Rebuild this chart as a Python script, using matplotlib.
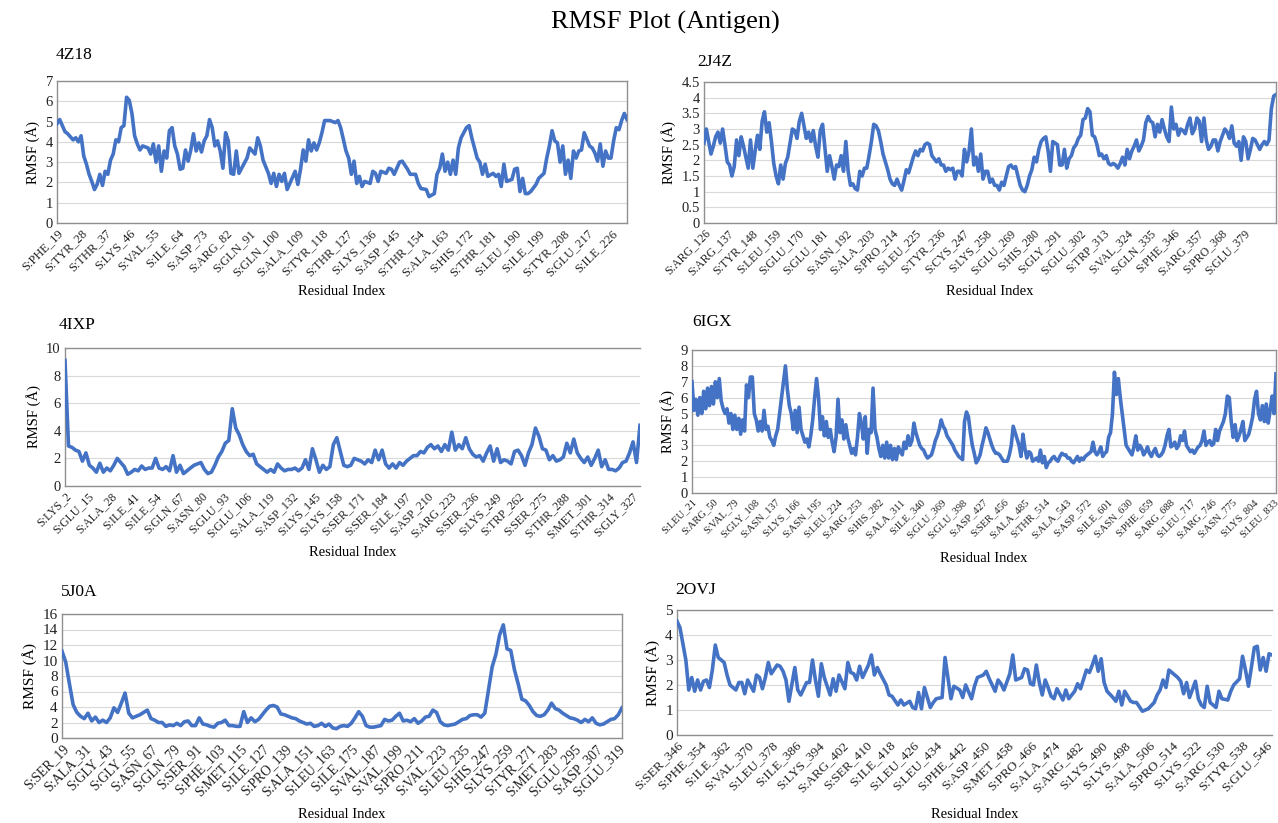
import numpy as np
import matplotlib
matplotlib.use("Agg")
from matplotlib import pyplot as plt

plt.rcParams['font.family'] = ['Liberation Serif', 'DejaVu Serif']

W, H = 1278, 823
LINE = '#4472C4'

# ---- 4Z18 ----
res_4z18 = [19, 20, 22, 23, 25, 26, 27, 28, 29, 30, 31, 32, 33, 34, 35, 36, 37, 38, 39, 40,
            41, 42, 43, 44, 45, 46, 47, 48, 49, 50, 51, 53, 54, 55, 56, 57, 58, 59, 60, 61,
            62, 63, 64, 65, 66, 67, 68, 69, 70, 71, 72, 73, 74, 75, 76, 77, 78, 79, 80, 81,
            82, 83, 84, 85, 86, 87, 88, 90, 91, 93, 94, 95, 96, 98, 99, 100, 101, 102, 103, 104,
            105, 106, 108, 109, 110, 111, 112, 113, 114, 115, 116, 117, 118, 119, 121, 123, 124, 125, 127, 128,
            129, 130, 131, 132, 133, 134, 136, 137, 138, 139, 140, 142, 143, 144, 145, 147, 148, 150, 151, 153,
            154, 155, 157, 158, 160, 161, 162, 163, 164, 165, 166, 167, 168, 169, 170, 172, 173, 174, 176, 177,
            178, 179, 180, 182, 183, 184, 185, 186, 187, 189, 190, 191, 192, 193, 194, 195, 196, 198, 199, 201,
            202, 203, 204, 205, 206, 207, 208, 209, 210, 211, 212, 213, 214, 215, 216, 218, 219, 220, 221, 222,
            223, 224, 225, 226, 227, 228, 229, 230, 231, 232]
rmsf_4z18 = [4.9, 5.1, 4.5, 4.4, 4.1, 4.2, 4.0, 4.3, 3.3, 2.9, 2.4, 2.05, 1.65, 1.9, 2.4, 1.85, 2.55, 2.4, 3.1, 3.4,
             4.1, 4.0, 4.7, 4.8, 6.2, 6.05, 5.4, 4.3, 3.9, 3.6, 3.8, 3.7, 3.4, 3.9, 3.0, 3.8, 2.55, 3.55, 3.2, 4.55,
             4.7, 3.8, 3.4, 2.65, 2.7, 3.6, 3.05, 3.6, 4.4, 3.55, 3.95, 3.5, 4.05, 4.3, 5.1, 4.7, 3.8, 4.05, 3.55, 2.7,
             4.45, 4.05, 2.45, 2.4, 3.55, 2.45, 2.7, 3.2, 3.7, 3.4, 4.2, 3.8, 3.1, 2.45, 1.95, 2.45, 1.8, 2.4, 2.05, 2.45,
             1.65, 1.95, 2.55, 1.9, 2.65, 3.6, 3.05, 4.1, 3.55, 3.95, 3.6, 3.95, 4.45, 5.05, 5.05, 4.95, 5.05, 4.7, 3.55, 3.2,
             2.4, 3.05, 1.95, 2.3, 1.8, 2.05, 1.95, 2.55, 2.45, 2.05, 2.55, 2.45, 2.7, 2.65, 2.4, 3.0, 3.05, 2.65, 2.4, 2.4,
             1.95, 1.7, 1.65, 1.3, 1.45, 2.4, 2.7, 3.4, 2.55, 3.0, 2.4, 3.1, 2.4, 3.7, 4.2, 4.7, 4.8, 4.2, 3.2, 3.0,
             2.4, 2.9, 2.3, 2.45, 2.3, 2.4, 1.8, 2.9, 2.05, 2.15, 2.65, 2.7, 1.55, 2.2, 1.45, 1.45, 1.55, 1.9, 2.2, 2.45,
             3.2, 3.8, 4.55, 4.05, 3.95, 3.0, 3.8, 2.4, 3.1, 2.2, 3.55, 3.2, 3.55, 3.6, 4.45, 3.8, 3.7, 3.45, 3.05, 3.9,
             2.8, 3.55, 3.2, 3.2, 4.05, 4.7, 4.6, 5.05, 5.4, 5.1]
ticks_4z18 = ["S:PHE_19", "S:TYR_28", "S:THR_37", "S:LYS_46", "S:VAL_55", "S:ILE_64", "S:ASP_73", "S:ARG_82",
              "S:GLN_91", "S:GLN_100", "S:ALA_109", "S:TYR_118", "S:THR_127", "S:LYS_136", "S:ASP_145", "S:THR_154",
              "S:ALA_163", "S:HIS_172", "S:THR_181", "S:LEU_190", "S:ILE_199", "S:TYR_208", "S:GLU_217", "S:ILE_226"]

# ---- 2J4Z (evenly sampled from residue 126 to 394) ----
span_2j4z = (126, 394)
rmsf_2j4z = [2.55, 3.0, 2.6, 2.2, 2.45, 2.75, 2.9, 2.55, 3.0, 2.5, 1.95, 1.85, 1.5, 1.8, 2.65, 2.15, 2.75, 2.45, 2.1, 1.75,
             2.65, 1.75, 2.3, 2.8, 2.35, 3.25, 3.55, 2.9, 3.2, 2.6, 1.9, 1.5, 1.25, 1.85, 1.4, 1.9, 2.1, 2.55, 3.0, 2.95,
             2.7, 3.25, 3.5, 3.1, 2.7, 2.9, 2.6, 2.95, 2.45, 2.1, 2.95, 3.15, 2.4, 1.65, 2.15, 1.8, 1.4, 1.85, 1.8, 2.15,
             1.65, 2.6, 1.65, 1.2, 1.25, 1.1, 1.05, 1.65, 1.5, 1.75, 1.75, 2.15, 2.6, 3.15, 3.1, 2.95, 2.6, 2.2, 1.95, 1.7,
             1.4, 1.25, 1.2, 1.4, 1.2, 1.05, 1.35, 1.7, 1.6, 1.85, 2.1, 2.3, 2.15, 2.35, 2.3, 2.5, 2.55, 2.5, 2.15, 2.05,
             1.95, 2.05, 1.85, 1.85, 1.65, 1.75, 1.7, 1.75, 1.4, 1.65, 1.65, 1.5, 2.35, 1.95, 2.3, 3.0, 1.85, 2.1, 1.65, 2.2,
             1.4, 1.65, 1.65, 1.3, 1.4, 1.2, 1.2, 1.05, 1.3, 1.2, 1.5, 1.8, 1.85, 1.75, 1.8, 1.5, 1.2, 1.05, 1.0, 1.2,
             1.5, 1.7, 2.1, 1.95, 2.35, 2.6, 2.7, 2.75, 2.3, 1.65, 2.6, 2.55, 2.5, 1.85, 1.85, 2.35, 1.75, 2.05, 2.15, 2.4,
             2.5, 2.7, 2.8, 3.3, 3.35, 3.65, 3.55, 2.8, 2.75, 2.5, 2.15, 2.2, 2.05, 2.15, 1.9, 1.85, 1.9, 1.85, 1.75, 1.9,
             2.1, 1.85, 2.35, 2.05, 2.3, 2.45, 2.65, 2.3, 2.45, 2.65, 3.2, 3.4, 3.25, 3.2, 2.75, 3.15, 2.9, 3.3, 3.0, 2.75,
             2.6, 3.7, 3.0, 3.15, 2.8, 3.0, 2.95, 2.85, 3.15, 3.35, 2.85, 3.0, 3.35, 3.25, 2.6, 3.35, 2.65, 2.35, 2.45, 2.65,
             2.65, 2.3, 2.6, 2.8, 3.0, 2.9, 2.7, 3.1, 2.55, 2.45, 2.6, 2.0, 2.75, 2.6, 2.05, 2.35, 2.7, 2.65, 2.5, 2.35,
             2.5, 2.6, 2.5, 2.65, 3.65, 4.05, 4.1]
ticks_2j4z = ["S:ARG_126", "S:ARG_137", "S:TYR_148", "S:LEU_159", "S:GLU_170", "S:GLU_181", "S:ASN_192", "S:ALA_203",
              "S:PRO_214", "S:LEU_225", "S:TYR_236", "S:CYS_247", "S:LYS_258", "S:GLU_269", "S:HIS_280", "S:GLY_291",
              "S:GLU_302", "S:TRP_313", "S:VAL_324", "S:GLN_335", "S:PHE_346", "S:ARG_357", "S:PRO_368", "S:GLU_379"]

# ---- 4IXP (every 2nd residue, 2..332) ----
span_4ixp = (2, 332)
rmsf_4ixp = [9.1, 2.9, 2.8, 2.6, 2.5, 1.8, 2.4, 1.5, 1.3, 1.0, 1.65, 1.0, 1.3, 1.1, 1.5, 2.0, 1.7, 1.4, 0.85, 1.0,
             1.2, 1.1, 1.45, 1.2, 1.3, 1.3, 2.0, 1.3, 1.2, 1.4, 1.1, 2.2, 1.0, 1.5, 0.9, 1.1, 1.3, 1.5, 1.6, 1.7,
             1.2, 0.9, 1.0, 1.5, 2.1, 2.5, 3.1, 3.3, 5.6, 4.2, 3.7, 3.0, 2.5, 2.2, 2.3, 1.6, 1.4, 1.2, 1.0, 1.2,
             1.0, 1.6, 1.3, 1.1, 1.2, 1.2, 1.3, 1.1, 1.3, 1.9, 1.2, 2.7, 1.9, 1.0, 1.5, 1.2, 1.4, 3.0, 3.5, 2.5,
             1.5, 1.4, 1.5, 2.0, 1.9, 1.8, 1.6, 1.9, 1.7, 2.6, 1.9, 2.6, 1.6, 1.3, 1.6, 1.3, 1.7, 1.5, 1.8, 2.0,
             2.2, 2.2, 2.5, 2.4, 2.8, 3.0, 2.7, 2.9, 2.5, 3.0, 2.6, 3.9, 2.6, 3.0, 2.7, 3.5, 2.7, 2.3, 2.1, 2.2,
             1.8, 2.4, 2.9, 1.8, 2.7, 1.7, 1.9, 1.8, 1.6, 2.5, 2.6, 2.2, 1.5, 2.4, 3.0, 4.2, 3.6, 2.7, 2.6, 1.9,
             2.2, 1.8, 1.9, 2.1, 3.1, 2.4, 3.4, 2.4, 2.0, 1.7, 2.1, 1.5, 2.0, 2.6, 1.4, 1.9, 1.2, 1.2, 1.1, 1.3,
             1.7, 1.8, 2.4, 3.2, 1.7, 4.4]
ticks_4ixp = ["S:LYS_2", "S:GLU_15", "S:ALA_28", "S:ILE_41", "S:ILE_54", "S:GLN_67", "S:ASN_80", "S:GLU_93",
              "S:GLU_106", "S:ALA_119", "S:ASP_132", "S:LYS_145", "S:LYS_158", "S:SER_171", "S:SER_184", "S:ILE_197",
              "S:ASP_210", "S:ARG_223", "S:SER_236", "S:LYS_249", "S:TRP_262", "S:SER_275", "S:THR_288", "S:MET_301",
              "S:THR_314", "S:GLY_327"]

# ---- 6IGX (evenly sampled, residue 21..836) ----
span_6igx = (21, 836)
rmsf_6igx = [7.0, 5.2, 5.9, 4.9, 6.0, 5.0, 6.4, 5.3, 6.6, 5.5, 6.7, 5.6, 7.0, 6.0, 7.2, 5.8, 5.3, 5.0, 5.3, 4.4,
             5.0, 4.0, 4.9, 4.0, 4.7, 3.7, 4.6, 3.9, 6.8, 6.0, 7.3, 7.3, 5.0, 4.6, 3.9, 4.5, 3.9, 5.2, 4.0, 4.2,
             3.5, 3.3, 3.0, 3.6, 4.0, 5.0, 6.0, 7.0, 8.0, 6.5, 5.5, 5.0, 4.0, 5.2, 3.8, 5.4, 4.0, 3.6, 3.2, 3.4,
             2.9, 3.6, 4.6, 6.0, 7.2, 6.0, 4.0, 4.8, 3.6, 4.5, 3.5, 4.0, 3.2, 2.6, 3.5, 5.9, 3.8, 4.6, 3.4, 4.3,
             3.5, 3.0, 2.5, 2.8, 2.4, 3.5, 5.0, 4.4, 3.4, 4.8, 2.5, 4.0, 3.8, 6.6, 4.0, 3.5, 2.8, 2.3, 3.0, 2.2,
             3.2, 2.2, 3.0, 2.1, 2.8, 2.1, 2.9, 2.6, 2.4, 3.2, 2.8, 3.6, 3.0, 3.3, 4.4, 3.8, 3.4, 3.0, 2.8, 2.7,
             2.4, 2.2, 2.3, 2.4, 2.8, 3.3, 3.6, 4.0, 4.6, 4.2, 4.0, 3.6, 3.4, 3.2, 3.0, 2.7, 2.5, 2.3, 2.2, 2.1,
             4.5, 5.1, 4.8, 3.8, 3.0, 2.5, 1.9, 2.1, 2.4, 3.0, 3.5, 4.1, 3.8, 3.4, 3.0, 2.7, 2.5, 2.5, 2.4, 2.2,
             2.0, 2.0, 2.0, 2.4, 3.0, 4.2, 3.8, 3.4, 3.0, 2.3, 3.7, 2.8, 2.2, 2.6, 2.5, 2.0, 2.1, 2.2, 2.0, 2.7,
             1.9, 2.3, 1.6, 1.9, 2.0, 2.2, 2.3, 2.1, 2.0, 2.3, 2.5, 2.4, 2.4, 2.2, 2.2, 2.0, 1.9, 2.1, 2.3, 2.0,
             2.2, 2.1, 2.3, 2.4, 2.5, 2.6, 3.2, 2.6, 2.4, 2.6, 2.9, 2.3, 2.5, 2.6, 3.5, 3.8, 5.0, 7.6, 6.2, 7.2,
             6.0, 5.0, 4.0, 3.0, 2.8, 2.6, 2.4, 2.9, 3.6, 2.7, 3.0, 2.8, 2.4, 2.6, 2.9, 2.5, 2.3, 2.6, 2.8, 2.4,
             2.3, 2.4, 2.6, 3.0, 3.6, 4.0, 2.9, 3.0, 3.2, 2.8, 3.0, 3.6, 3.3, 3.9, 3.0, 2.8, 2.6, 2.7, 2.5, 2.7,
             2.9, 3.0, 3.3, 3.9, 3.0, 3.2, 3.3, 3.0, 3.1, 4.0, 3.3, 3.9, 4.2, 4.5, 5.0, 6.1, 6.0, 4.5, 3.5, 4.3,
             3.3, 3.6, 4.0, 4.5, 3.3, 3.5, 3.7, 4.2, 4.8, 5.9, 6.4, 5.0, 4.6, 5.5, 4.5, 5.6, 4.4, 5.2, 6.1, 5.0,
             7.5]
ticks_6igx = ["S:LEU_21", "S:ARG_50", "S:VAL_79", "S:GLY_108", "S:ASN_137", "S:LYS_166", "S:ASN_195", "S:LEU_224",
              "S:ARG_253", "S:HIS_282", "S:ALA_311", "S:ILE_340", "S:GLU_369", "S:GLU_398", "S:ASP_427", "S:SER_456",
              "S:ALA_485", "S:THR_514", "S:ALA_543", "S:ASP_572", "S:ILE_601", "S:ASN_630", "S:PHE_659", "S:ARG_688",
              "S:LEU_717", "S:ARG_746", "S:ASN_775", "S:LYS_804", "S:LEU_833"]

# ---- 5J0A (every 2nd residue, 19..321) ----
span_5j0a = (19, 321)
rmsf_5j0a = [11.2, 9.8, 7.0, 4.3, 3.3, 2.8, 2.5, 3.2, 2.2, 2.7, 2.0, 2.3, 2.0, 2.6, 3.9, 3.3, 4.5, 5.8, 3.2, 2.6,
             2.8, 3.0, 3.3, 3.6, 2.5, 2.3, 2.0, 2.0, 1.5, 1.7, 1.6, 1.9, 1.6, 2.1, 2.2, 1.6, 1.6, 2.6, 1.8, 1.7,
             1.5, 1.4, 1.9, 2.0, 2.3, 1.6, 1.6, 1.5, 1.5, 3.4, 2.0, 2.6, 2.1, 2.4, 3.0, 3.6, 4.1, 4.2, 4.0, 3.1,
             3.0, 2.8, 2.6, 2.5, 2.2, 2.0, 1.8, 1.9, 1.5, 1.6, 1.9, 1.5, 1.8, 1.3, 1.2, 1.5, 1.6, 1.5, 1.9, 2.6,
             3.4, 2.8, 1.6, 1.4, 1.4, 1.5, 1.6, 2.4, 2.2, 2.3, 2.8, 3.2, 2.2, 2.3, 2.1, 2.5, 1.9, 2.2, 2.7, 2.8,
             3.6, 3.3, 2.1, 1.7, 1.6, 1.7, 1.8, 2.1, 2.4, 2.5, 2.9, 3.0, 3.0, 2.7, 3.2, 6.2, 9.2, 10.8, 13.3, 14.6,
             11.5, 11.3, 8.8, 7.0, 5.0, 4.8, 4.2, 3.4, 2.9, 2.8, 3.0, 3.6, 4.5, 3.8, 3.6, 3.2, 2.9, 2.6, 2.5, 2.3,
             2.0, 2.4, 2.1, 2.6, 1.9, 1.7, 1.8, 2.1, 2.4, 2.5, 3.0, 3.9]
ticks_5j0a = ["S:SER_19", "S:ALA_31", "S:GLY_43", "S:GLY_55", "S:ASN_67", "S:GLN_79", "S:SER_91", "S:PHE_103",
              "S:MET_115", "S:ILE_127", "S:PRO_139", "S:ALA_151", "S:LEU_163", "S:ILE_175", "S:VAL_187", "S:VAL_199",
              "S:PRO_211", "S:VAL_223", "S:LEU_235", "S:HIS_247", "S:LYS_259", "S:TYR_271", "S:MET_283", "S:GLU_295",
              "S:ASP_307", "S:GLU_319"]

# ---- 2OVJ ----
res_2ovj = [346, 347, 349, 350, 351, 352, 353, 354, 355, 356, 357, 358, 359, 360, 362, 363, 364, 366, 367, 368,
            369, 370, 372, 373, 374, 375, 376, 377, 378, 380, 381, 382, 383, 384, 386, 387, 388, 390, 391, 392,
            393, 394, 395, 396, 398, 399, 400, 401, 403, 404, 405, 406, 407, 408, 409, 411, 412, 413, 414, 415,
            417, 418, 419, 421, 422, 423, 425, 426, 427, 428, 429, 430, 432, 433, 434, 436, 437, 439, 440, 442,
            443, 444, 446, 447, 448, 450, 451, 452, 454, 455, 456, 457, 459, 460, 461, 463, 464, 465, 466, 467,
            468, 469, 470, 471, 472, 473, 474, 475, 477, 478, 479, 481, 482, 483, 485, 486, 487, 488, 489, 490,
            491, 492, 494, 495, 496, 497, 498, 500, 501, 502, 504, 505, 506, 508, 509, 510, 511, 512, 513, 514,
            516, 517, 518, 519, 520, 522, 523, 524, 525, 526, 527, 529, 530, 531, 533, 534, 535, 537, 538, 539,
            540, 541, 542, 543, 544, 545, 546, 547, 548]
rmsf_2ovj = [4.55, 4.3, 3.0, 1.8, 2.3, 1.75, 2.2, 1.8, 2.15, 2.2, 1.9, 2.6, 3.6, 3.1, 2.9, 2.4, 2.0, 1.8, 2.1, 2.1,
             1.65, 2.2, 1.75, 2.4, 2.3, 1.85, 2.3, 2.9, 2.45, 2.8, 2.75, 2.55, 2.2, 1.35, 2.7, 1.8, 1.6, 2.1, 2.1, 3.0,
             2.2, 1.55, 2.85, 2.3, 1.6, 2.25, 1.75, 2.4, 1.85, 2.9, 2.5, 2.45, 2.2, 2.75, 2.3, 2.8, 3.2, 2.4, 2.7, 2.45,
             2.0, 1.6, 1.55, 1.2, 1.4, 1.2, 1.35, 1.1, 1.05, 1.7, 1.05, 1.9, 1.1, 1.3, 1.45, 1.5, 3.1, 1.45, 1.95, 1.8,
             1.5, 2.0, 1.45, 1.95, 2.3, 2.4, 2.55, 2.25, 1.75, 2.2, 2.05, 1.8, 2.45, 3.2, 2.2, 2.3, 2.65, 2.6, 2.05, 2.0,
             2.8, 2.1, 1.6, 2.2, 1.9, 1.55, 1.45, 1.85, 1.4, 1.8, 1.45, 1.75, 2.05, 1.85, 2.6, 2.5, 2.8, 3.15, 2.55, 3.05,
             2.1, 1.75, 1.5, 1.35, 1.75, 1.2, 1.75, 1.35, 1.3, 1.3, 0.95, 1.0, 1.05, 1.3, 1.6, 1.8, 2.2, 1.9, 2.6, 2.5,
             2.3, 2.15, 1.65, 2.1, 1.5, 2.15, 1.45, 1.2, 1.1, 1.95, 1.3, 1.1, 1.75, 1.45, 1.4, 1.75, 2.0, 2.25, 3.15, 2.6,
             1.95, 2.7, 3.5, 3.55, 2.6, 3.1, 2.55, 3.25, 3.2]
ticks_2ovj = ["S:SER_346", "S:PHE_354", "S:ILE_362", "S:VAL_370", "S:LEU_378", "S:ILE_386", "S:LYS_394", "S:ARG_402",
              "S:SER_410", "S:ILE_418", "S:LEU_426", "S:LEU_434", "S:PHE_442", "S:ASP_450", "S:MET_458", "S:PRO_466",
              "S:ALA_474", "S:ARG_482", "S:LYS_490", "S:LYS_498", "S:ALA_506", "S:PRO_514", "S:LYS_522", "S:ARG_530",
              "S:TYR_538", "S:GLU_546"]


def evenly(span, vals):
    return np.linspace(span[0], span[1], len(vals))


def panel(box, name, name_xy, x, y, ticks, ymax, ystep, ylabels=None, right_spine=True, xfs=8.5, yfs=10.5,
          xlabel_y=None):
    l, t, r, b = box
    ax = fig.add_axes([l / W, 1 - b / H, (r - l) / W, (b - t) / H])
    ax.plot(x, y, color=LINE, lw=2.6, solid_joinstyle='round', zorder=3)
    ax.set_xlim(x[0], x[-1])
    ax.set_ylim(0, ymax)
    yt = np.arange(0, ymax + ystep / 2, ystep)
    ax.set_yticks(yt)
    if ylabels is not None:
        ax.set_yticklabels(ylabels)
    ax.grid(axis='y', color='#D9D9D9', lw=0.8)
    ax.set_axisbelow(True)
    pos = [int(s.split('_')[1]) for s in ticks]
    ax.set_xticks(pos)
    ax.set_xticklabels(ticks, rotation=45, ha='right', rotation_mode='anchor', fontsize=xfs)
    ax.tick_params(axis='both', length=0, pad=3, colors='#222222')
    ax.tick_params(axis='y', labelsize=yfs)
    for sp in ax.spines.values():
        sp.set_color('#8f8f8f')
        sp.set_linewidth(1.0)
    ax.spines['right'].set_visible(right_spine)
    ax.set_ylabel('RMSF (Å)', fontsize=yfs, labelpad=4)
    # x-axis title placed at a fixed height below each panel
    fig.text((l + r) / 2 / W, 1 - xlabel_y / H, 'Residual Index', fontsize=10.5, ha='center', va='center')
    fig.text(name_xy[0] / W, 1 - name_xy[1] / H, name, fontsize=12.5, va='center', ha='left')
    return ax


fig = plt.figure(figsize=(W / 100, H / 100), dpi=100)
fig.patch.set_facecolor('white')
fig.text(665 / W, 1 - 22 / H, 'RMSF Plot (Antigen)', ha='center', va='center', fontsize=19)

panel((57, 81, 627, 223), '4Z18', (56, 55), res_4z18, rmsf_4z18, ticks_4z18, 7, 1, xfs=9, xlabel_y=291)
panel((704, 82, 1276, 223), '2J4Z', (697, 62), evenly(span_2j4z, rmsf_2j4z), rmsf_2j4z, ticks_2j4z, 4.5, 0.5,
      ylabels=['0', '0.5', '1', '1.5', '2', '2.5', '3', '3.5', '4', '4.5'], xfs=8.6, xlabel_y=291)
panel((65, 348, 640, 486), '4IXP', (59, 325), evenly(span_4ixp, rmsf_4ixp), rmsf_4ixp, ticks_4ixp, 10, 2,
      right_spine=False, xfs=8.6, xlabel_y=553)
panel((692, 350, 1276, 493), '6IGX', (692, 322), evenly(span_6igx, rmsf_6igx), rmsf_6igx, ticks_6igx, 9, 1,
      xfs=7.6, xlabel_y=559)
panel((62, 614, 622, 738), '5J0A', (61, 592), evenly(span_5j0a, rmsf_5j0a), rmsf_5j0a, ticks_5j0a, 16, 2,
      xfs=9.8, yfs=11, xlabel_y=815)
panel((677, 610, 1272, 735), '2OVJ', (675, 590), res_2ovj, rmsf_2ovj, ticks_2ovj, 5, 1, right_spine=False,
      xfs=9.6, yfs=11, xlabel_y=815)

fig.savefig('out.png', dpi=100)
